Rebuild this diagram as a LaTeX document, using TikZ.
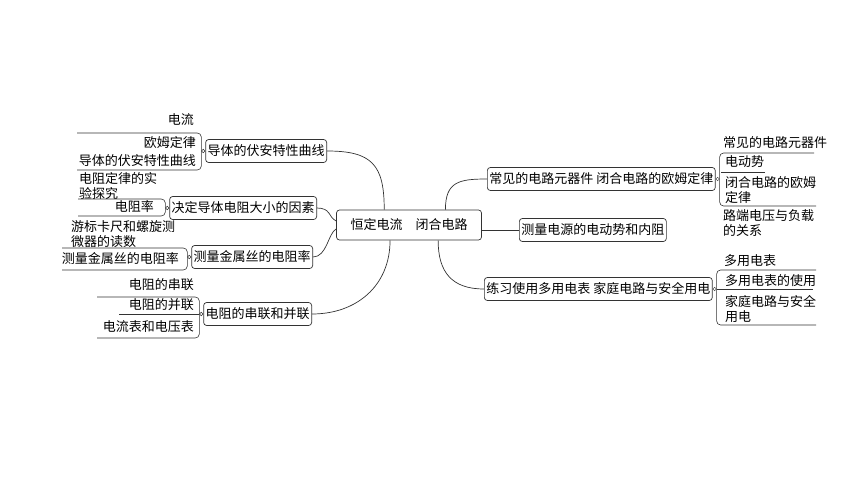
\documentclass[tikz,border=0pt]{standalone}
\usepackage{fontspec}
\setmainfont{Noto Sans CJK SC}
\usepackage{tikz}
\usetikzlibrary{positioning}
\usetikzlibrary{calc}

\begin{document}
\begin{tikzpicture}[
  x=1pt, y=-1pt,
  font=\fontsize{13}{14.5}\selectfont,
  topic/.style={draw=black!80, line width=0.7pt, rounded corners=3pt, inner xsep=2pt, inner ysep=3pt, minimum height=23pt},
  root/.style={topic, inner xsep=14pt, minimum height=30pt},
  leaf/.style={inner sep=1pt, align=left},
  knob/.style={circle, draw=black!80, line width=0.5pt, fill=white, inner sep=0pt, minimum size=3.5pt},
  link/.style={line width=0.7pt, black!80},
  brace/.style={line width=0.6pt, black!80, rounded corners=4pt}
]
\useasboundingbox (0,0) rectangle (860,484);

% Centre
\node[root] (root) at (409,225) {恒定电流\quad 闭合电路};

% Left branches
\node[topic, anchor=east] (b1) at (327,151) {导体的伏安特性曲线};
\node[topic, anchor=east] (b2) at (317,208) {决定导体电阻大小的因素};
\node[topic, anchor=east] (b3) at (313,257) {测量金属丝的电阻率};
\node[topic, anchor=east] (b4) at (312,314) {电阻的串联和并联};

% Right branches
\node[topic, anchor=west] (r1) at (487,179) {常见的电路元器件\ 闭合电路的欧姆定律};
\node[topic, anchor=west] (r2) at (519,230) {测量电源的电动势和内阻};
\node[topic, anchor=west] (r3) at (484,289) {练习使用多用电表\ 家庭电路与安全用电};

% Knobs
\node[knob, left=0pt of b1] (k1) {};
\node[knob, left=0pt of b2] (k2) {};
\node[knob, left=0pt of b3] (k3) {};
\node[knob, left=0pt of b4] (k4) {};
\node[knob, right=0pt of r1] (k5) {};
\node[knob, right=0pt of r3] (k6) {};

% Links from the centre
\draw[link] (b1.east) .. controls +(45,0) and +(0,-45) .. ($(root.north west)!0.33!(root.north east)$);
\draw[link] (b2.east) .. controls +(14,0) and +(-8,-4) .. ([yshift=4pt]root.west);
\draw[link] (b3.east) .. controls +(14,0) and +(-8,4) .. ([yshift=-4pt]root.west);
\draw[link] (b4.east) .. controls +(45,0) and +(0,45) .. ($(root.south west)!0.37!(root.south east)$);
\draw[link] ($(root.north west)!0.75!(root.north east)$) .. controls +(0,-28) and +(-28,0) .. (r1.west);
\draw[link] (r2.west) -- (r2.west -| root.east);
\draw[link] ($(root.south west)!0.70!(root.south east)$) .. controls +(0,32) and +(-32,0) .. (r3.west);

% Left leaves
\node[leaf, anchor=east] (l11) at (195,120) {电流};
\node[leaf, anchor=east] (l12) at (197,143) {欧姆定律};
\node[leaf, anchor=east] (l13) at (197,161) {导体的伏安特性曲线};
\draw[brace] (77,133) -| (k1.west) |- (77,170);

\node[leaf, anchor=west] (l21) at (78,186) {电阻定律的实\\验探究};
\node[leaf, anchor=east] (l22) at (155,207) {电阻率};
\draw[brace] (78,199) -| (k2.west) |- (78,216);

\node[leaf, anchor=west] (l31) at (70,234) {游标卡尺和螺旋测\\微器的读数};
\node[leaf, anchor=east] (l32) at (180,259) {测量金属丝的电阻率};
\draw[brace] (62,248) -| (k3.west) |- (62,270);

\node[leaf, anchor=east] (l41) at (195,285) {电阻的串联};
\node[leaf, anchor=east] (l42) at (195,305) {电阻的并联};
\node[leaf, anchor=east] (l43) at (195,327) {电流表和电压表};
\draw[brace] (97,297) -| (k4.west) |- (97,338);
\draw[brace] (k4.west) -- ++(-80,0);

% Right leaves
\node[leaf, anchor=west] (m11) at (722,143) {常见的电路元器件};
\node[leaf, anchor=west] (m12) at (724,162) {电动势};
\node[leaf, anchor=west] (m13) at (724,190) {闭合电路的欧姆\\定律};
\node[leaf, anchor=west] (m14) at (722,223) {路端电压与负载\\的关系};
\draw[brace] (814,153) -| (k5.east) |- (816,206);
\draw[brace] (721,172) -- (765,172);

\node[leaf, anchor=west] (m21) at (723,261) {多用电表};
\node[leaf, anchor=west] (m22) at (724,281) {多用电表的使用};
\node[leaf, anchor=west] (m23) at (724,309) {家庭电路与安全\\用电};
\draw[brace] (816,270) -| (k6.east) |- (816,325);
\draw[brace] (k6.east) -- ++(96,0);

\end{tikzpicture}
\end{document}
